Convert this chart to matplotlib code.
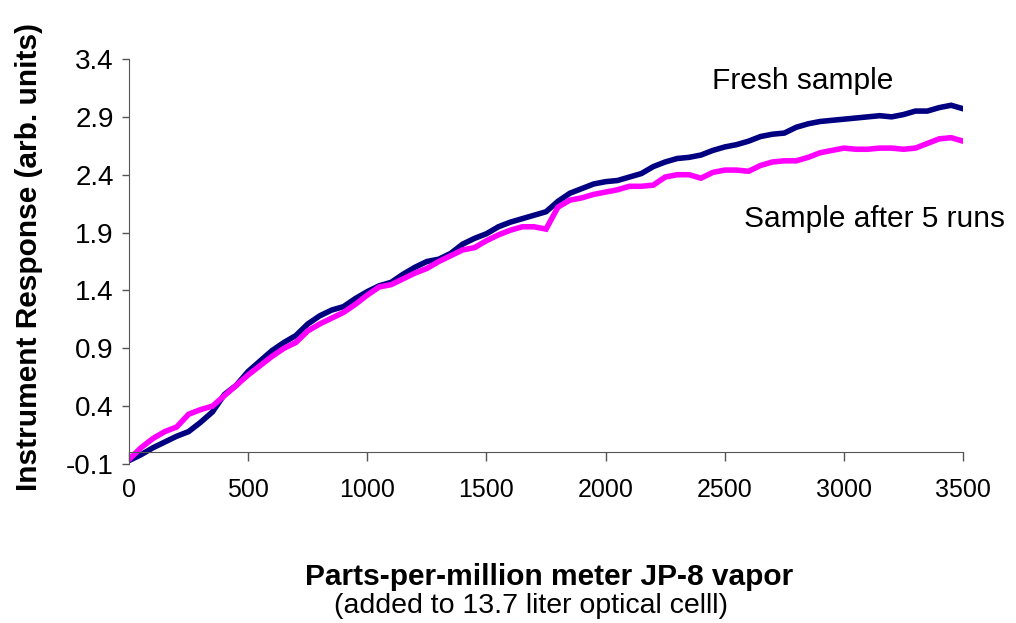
import numpy as np
import matplotlib
matplotlib.use('Agg')
import matplotlib.pyplot as plt

plt.rcParams['font.family'] = ['Liberation Sans', 'DejaVu Sans']

# ppm readings, every 50 ppm from 0 to 3500
ppm = list(range(0, 3501, 50))

fresh = [-0.07, -0.02, 0.04, 0.09, 0.14, 0.18, 0.26, 0.35, 0.50, 0.58,
         0.70, 0.79, 0.88, 0.95, 1.01, 1.11, 1.18, 1.23, 1.26, 1.33,
         1.39, 1.44, 1.47, 1.54, 1.60, 1.65, 1.67, 1.72, 1.80, 1.85,
         1.89, 1.95, 1.99, 2.02, 2.05, 2.08, 2.17, 2.24, 2.28, 2.32,
         2.34, 2.35, 2.38, 2.41, 2.47, 2.51, 2.54, 2.55, 2.57, 2.61,
         2.64, 2.66, 2.69, 2.73, 2.75, 2.76, 2.81, 2.84, 2.86, 2.87,
         2.88, 2.89, 2.90, 2.91, 2.90, 2.92, 2.95, 2.95, 2.98, 3.00,
         2.97]

after5 = [-0.06, 0.04, 0.12, 0.18, 0.22, 0.33, 0.37, 0.40, 0.49, 0.58,
          0.67, 0.75, 0.83, 0.90, 0.95, 1.05, 1.11, 1.16, 1.21, 1.28,
          1.36, 1.43, 1.45, 1.50, 1.55, 1.59, 1.65, 1.70, 1.75, 1.77,
          1.83, 1.88, 1.92, 1.95, 1.95, 1.93, 2.12, 2.18, 2.20, 2.23,
          2.25, 2.27, 2.30, 2.30, 2.31, 2.38, 2.40, 2.40, 2.37, 2.42,
          2.44, 2.44, 2.43, 2.48, 2.51, 2.52, 2.52, 2.55, 2.59, 2.61,
          2.63, 2.62, 2.62, 2.63, 2.63, 2.62, 2.63, 2.67, 2.71, 2.72,
          2.69]

yticks = [-0.1, 0.4, 0.9, 1.4, 1.9, 2.4, 2.9, 3.4]
xticks = [0, 500, 1000, 1500, 2000, 2500, 3000, 3500]

fig = plt.figure(figsize=(10.16, 6.23), dpi=100)
ax = fig.add_axes([0.127, 0.2552, 0.8209, 0.6501])

ax.plot(ppm, fresh, color='#000080', lw=4, solid_joinstyle='miter')
ax.plot(ppm, after5, color='#FF00FF', lw=4, solid_joinstyle='miter')

ax.set_xlim(0, 3500)
ax.set_ylim(-0.1, 3.4)
ax.set_xticks(xticks)
ax.set_yticks(yticks)
ax.set_yticklabels(['%.1f' % v for v in yticks])

for s in ['top', 'right']:
    ax.spines[s].set_visible(False)
ax.spines['bottom'].set_position(('data', 0))
ax.spines['left'].set_color('#555555')
ax.spines['bottom'].set_color('#555555')

ax.tick_params(axis='x', direction='out', length=6.5, width=1, color='#555555',
               labelsize=18, pad=12)
ax.tick_params(axis='y', direction='out', length=5, width=1, color='#555555',
               labelsize=20, pad=6)

ax.set_ylabel('Instrument Response (arb. units)', fontsize=21.5,
              fontweight='bold')
ax.yaxis.set_label_coords(-0.103, 0.511)

fig.text(0.540, 0.074, 'Parts-per-million meter JP-8 vapor', fontsize=21.5,
         fontweight='bold', ha='center', va='center')
fig.text(0.523, 0.027, '(added to 13.7 liter optical celll)', fontsize=20.5,
         ha='center', va='center')

ax.text(2446, 3.21, 'Fresh sample', fontsize=21.5, ha='left', va='center')
ax.text(2581, 2.02, 'Sample after 5 runs', fontsize=21.5, ha='left', va='center')

fig.savefig('out.png', dpi=100)
